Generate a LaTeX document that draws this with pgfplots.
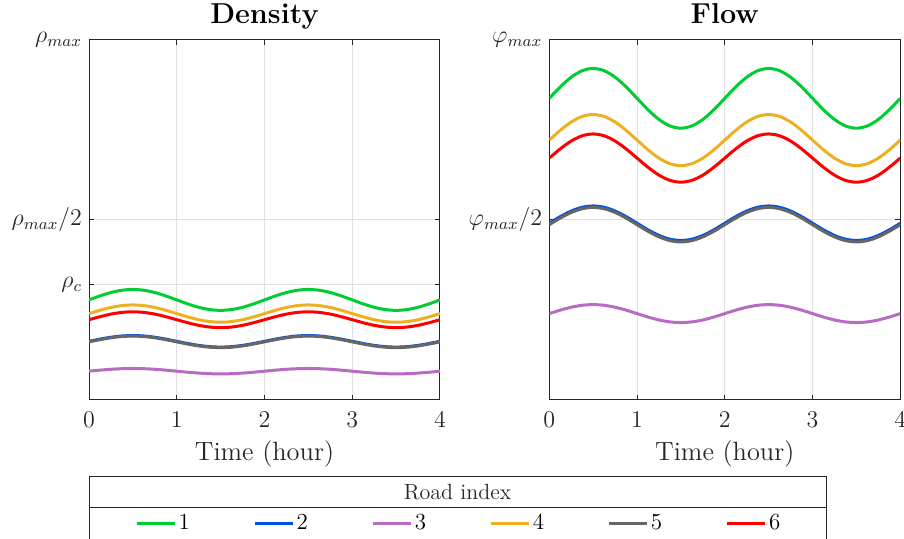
\documentclass[border=0pt]{standalone}
\usepackage{pgfplots}
\pgfplotsset{compat=1.18}
\usepackage{pgfplotstable}

\definecolor{cg}{rgb}{0,0.8,0.2}
\definecolor{cb}{rgb}{0,0.32,0.9}
\definecolor{cp}{rgb}{0.72,0.42,0.76}
\definecolor{cy}{rgb}{0.93,0.69,0.13}
\definecolor{ck}{rgb}{0.4,0.4,0.4}
\definecolor{cr}{rgb}{1,0,0}

\pgfplotstableread{
x     g      b      p      y      k      r
0     0.278  0.163  0.080  0.240  0.1615 0.223
0.125 0.2891 0.1691 0.0829 0.2492 0.1676 0.2314
0.25  0.2985 0.1743 0.0853 0.257  0.1728 0.2386
0.375 0.3048 0.1778 0.0869 0.2622 0.1763 0.2433
0.5   0.307  0.179  0.0875 0.264  0.1775 0.245
0.625 0.3048 0.1778 0.0869 0.2622 0.1763 0.2433
0.75  0.2985 0.1743 0.0853 0.257  0.1728 0.2386
0.875 0.2891 0.1691 0.0829 0.2492 0.1676 0.2314
1     0.278  0.163  0.080  0.240  0.1615 0.223
1.125 0.2669 0.1569 0.0771 0.2308 0.1554 0.2146
1.25  0.2575 0.1517 0.0747 0.223  0.1502 0.2074
1.375 0.2512 0.1482 0.0731 0.2178 0.1467 0.2027
1.5   0.249  0.147  0.0725 0.216  0.1455 0.201
1.625 0.2512 0.1482 0.0731 0.2178 0.1467 0.2027
1.75  0.2575 0.1517 0.0747 0.223  0.1502 0.2074
1.875 0.2669 0.1569 0.0771 0.2308 0.1554 0.2146
2     0.278  0.163  0.080  0.240  0.1615 0.223
2.125 0.2891 0.1691 0.0829 0.2492 0.1676 0.2314
2.25  0.2985 0.1743 0.0853 0.257  0.1728 0.2386
2.375 0.3048 0.1778 0.0869 0.2622 0.1763 0.2433
2.5   0.307  0.179  0.0875 0.264  0.1775 0.245
2.625 0.3048 0.1778 0.0869 0.2622 0.1763 0.2433
2.75  0.2985 0.1743 0.0853 0.257  0.1728 0.2386
2.875 0.2891 0.1691 0.0829 0.2492 0.1676 0.2314
3     0.278  0.163  0.080  0.240  0.1615 0.223
3.125 0.2669 0.1569 0.0771 0.2308 0.1554 0.2146
3.25  0.2575 0.1517 0.0747 0.223  0.1502 0.2074
3.375 0.2512 0.1482 0.0731 0.2178 0.1467 0.2027
3.5   0.249  0.147  0.0725 0.216  0.1455 0.201
3.625 0.2512 0.1482 0.0731 0.2178 0.1467 0.2027
3.75  0.2575 0.1517 0.0747 0.223  0.1502 0.2074
3.875 0.2669 0.1569 0.0771 0.2308 0.1554 0.2146
4     0.278  0.163  0.080  0.240  0.1615 0.223
}\density

\pgfplotstableread{
x     g      b      p      y      k      r
0     0.838  0.491  0.240  0.722  0.487  0.672
0.125 0.8698 0.5094 0.2496 0.7492 0.5054 0.6976
0.25  0.8967 0.5249 0.2577 0.7722 0.5209 0.7194
0.375 0.9147 0.5353 0.2631 0.7876 0.5313 0.7339
0.5   0.921  0.539  0.265  0.793  0.535  0.739
0.625 0.9147 0.5353 0.2631 0.7876 0.5313 0.7339
0.75  0.8967 0.5249 0.2577 0.7722 0.5209 0.7194
0.875 0.8698 0.5094 0.2496 0.7492 0.5054 0.6976
1     0.838  0.491  0.240  0.722  0.487  0.672
1.125 0.8062 0.4726 0.2304 0.6948 0.4686 0.6464
1.25  0.7793 0.4571 0.2223 0.6718 0.4531 0.6246
1.375 0.7613 0.4467 0.2169 0.6564 0.4427 0.6101
1.5   0.755  0.443  0.215  0.651  0.439  0.605
1.625 0.7613 0.4467 0.2169 0.6564 0.4427 0.6101
1.75  0.7793 0.4571 0.2223 0.6718 0.4531 0.6246
1.875 0.8062 0.4726 0.2304 0.6948 0.4686 0.6464
2     0.838  0.491  0.240  0.722  0.487  0.672
2.125 0.8698 0.5094 0.2496 0.7492 0.5054 0.6976
2.25  0.8967 0.5249 0.2577 0.7722 0.5209 0.7194
2.375 0.9147 0.5353 0.2631 0.7876 0.5313 0.7339
2.5   0.921  0.539  0.265  0.793  0.535  0.739
2.625 0.9147 0.5353 0.2631 0.7876 0.5313 0.7339
2.75  0.8967 0.5249 0.2577 0.7722 0.5209 0.7194
2.875 0.8698 0.5094 0.2496 0.7492 0.5054 0.6976
3     0.838  0.491  0.240  0.722  0.487  0.672
3.125 0.8062 0.4726 0.2304 0.6948 0.4686 0.6464
3.25  0.7793 0.4571 0.2223 0.6718 0.4531 0.6246
3.375 0.7613 0.4467 0.2169 0.6564 0.4427 0.6101
3.5   0.755  0.443  0.215  0.651  0.439  0.605
3.625 0.7613 0.4467 0.2169 0.6564 0.4427 0.6101
3.75  0.7793 0.4571 0.2223 0.6718 0.4531 0.6246
3.875 0.8062 0.4726 0.2304 0.6948 0.4686 0.6464
4     0.838  0.491  0.240  0.722  0.487  0.672
}\flow

\pgfplotsset{
  myaxis/.style={
    scale only axis,
    width=175.5pt, height=180pt,
    xmin=0, xmax=4, ymin=0, ymax=1,
    xtick={0,1,2,3,4},
    axis line style={black!85, line width=0.5pt},
    tick style={black!85, line width=0.5pt},
    tick align=inside,
    major tick length=2.5pt,
    grid=major,
    major grid style={black!12, line width=0.5pt},
    tick label style={font=\fontsize{12}{14}\selectfont, text=black!85},
    xticklabel style={anchor=base, yshift=-14pt},
    xlabel={Time (hour)},
    xlabel style={font=\fontsize{13.2}{15}\selectfont, text=black!85, anchor=base, at={(0.5,0)}, yshift=-30.5pt},
    title style={font=\fontsize{14.4}{16}\selectfont\bfseries, anchor=base, at={(0.5,1)}, yshift=2pt},
    every axis plot/.append style={line width=1.5pt, smooth, no marks},
  }
}

\begin{document}
\begin{tikzpicture}
\useasboundingbox (0,0) rectangle (452pt,269.5pt);
\begin{axis}[myaxis,
  at={(44.5pt,69.5pt)}, anchor=south west,
  title={Density},
  ytick={0.32,0.5,1},
  yticklabels={$\rho_c$,$\rho_{max}/2$,$\rho_{max}$},
  legend columns=6,
  legend style={at={(1.0541,-0.3417)}, anchor=center, draw=none, fill=none,
    font=\fontsize{11.5}{13}\selectfont,
    nodes={inner sep=1.2pt},
    /tikz/every even column/.append style={column sep=30.5pt}},
  legend image code/.code={\draw[#1, line width=1.5pt] (0pt,0pt) -- (19pt,0pt);},
]
\addplot[cg] table[x=x,y=g]{\density};
\addplot[cb] table[x=x,y=b]{\density};
\addplot[cp] table[x=x,y=p]{\density};
\addplot[cy] table[x=x,y=y]{\density};
\addplot[ck] table[x=x,y=k]{\density};
\addplot[cr] table[x=x,y=r]{\density};
\legend{1,2,3,4,5,6}
\end{axis}
\begin{axis}[myaxis,
  at={(274.65pt,69.5pt)}, anchor=south west,
  title={Flow},
  ytick={0.5,1},
  yticklabels={$\varphi_{max}/2$,$\varphi_{max}$},
]
\addplot[cg] table[x=x,y=g]{\flow};
\addplot[cb] table[x=x,y=b]{\flow};
\addplot[cp] table[x=x,y=p]{\flow};
\addplot[cy] table[x=x,y=y]{\flow};
\addplot[ck] table[x=x,y=k]{\flow};
\addplot[cr] table[x=x,y=r]{\flow};
\end{axis}
\draw[black!85, line width=0.5pt] (44.5pt,-2pt) rectangle (413pt,31pt);
\draw[black!85, line width=0.5pt] (44.5pt,15.5pt) -- (413pt,15.5pt);
\node[font=\fontsize{11}{13}\selectfont, text=black!85] at (228.75pt,23.5pt) {Road index};
\end{tikzpicture}
\end{document}
